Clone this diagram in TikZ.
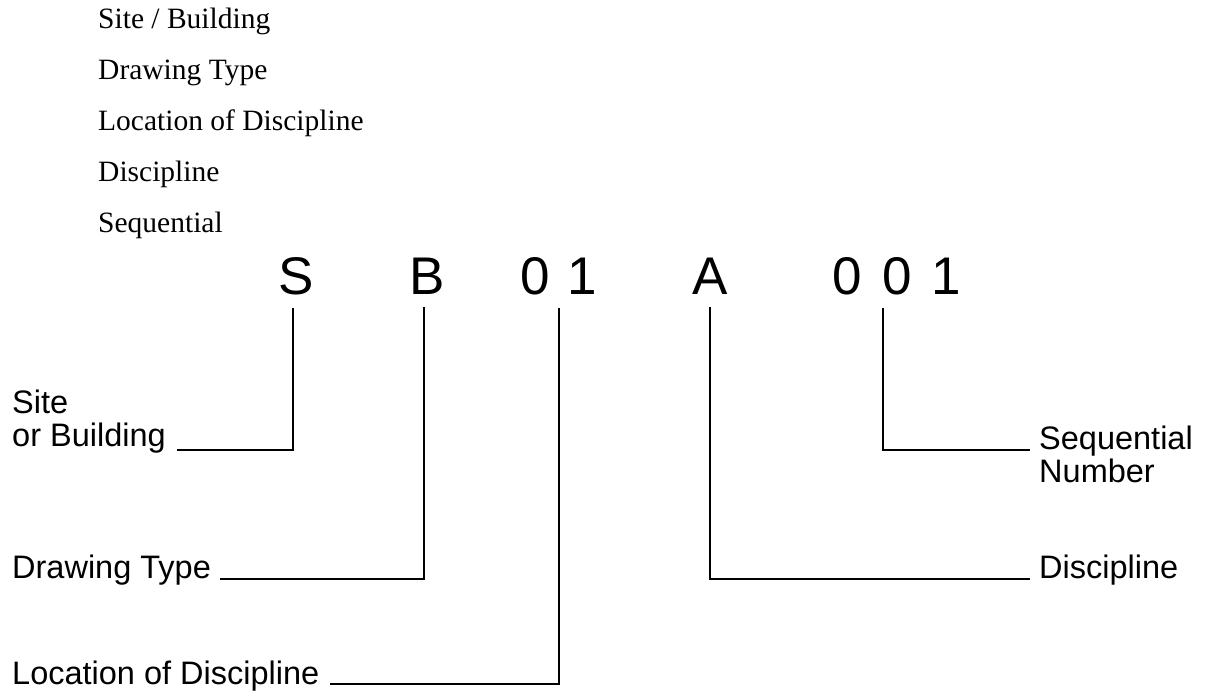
\documentclass[tikz,border=0pt]{standalone}
\usepackage{fontspec}
\setmainfont{Liberation Serif}
\newfontfamily\arialfont{Liberation Sans}
\begin{document}
\begin{tikzpicture}[x=1pt,y=-1pt,
  listitem/.style={anchor=base west, inner sep=0pt, font=\fontsize{29.5}{34}\selectfont},
  codechar/.style={anchor=base, inner sep=0pt, font=\arialfont\fontsize{53}{60}\selectfont},
  fieldlbl/.style={anchor=base west, inner sep=0pt, align=left, font=\arialfont\fontsize{32.5}{33}\selectfont},
  leader/.style={line width=2pt, line join=miter}]
\useasboundingbox (0,0) rectangle (1214,691);

% list of the number's fields
\node[listitem] (t1) at (98,28.5)  {Site / Building};
\node[listitem] (t2) at (98,79.5)  {Drawing Type};
\node[listitem] (t3) at (98,130.5) {Location of Discipline};
\node[listitem] (t4) at (98,181.5) {Discipline};
\node[listitem] (t5) at (98,232.5) {Sequential};

% the drawing number, one node per character
\node[codechar] (cS)  at (296,294)   {S};
\node[codechar] (cB)  at (427.5,294) {B};
\node[codechar] (cL0) at (535.5,294) {0};
\node[codechar] (cL1) at (582,294)   {1};
\node[codechar] (cA)  at (710,294)   {A};
\node[codechar] (cN0) at (847.5,294) {0};
\node[codechar] (cN1) at (897.5,294) {0};
\node[codechar] (cN2) at (946,294)   {1};

% field captions (a two-line caption sits on its last line)
\node[fieldlbl] (lSite) at (12,446)   {Site\\or Building};
\node[fieldlbl] (lType) at (12,578)   {Drawing Type};
\node[fieldlbl] (lLoc)  at (12,684)   {Location of Discipline};
\node[fieldlbl] (lDisc) at (1039,578) {Discipline};
\node[fieldlbl] (lSeq)  at (1039,482) {Sequential\\Number};

% free ends of the leaders, beside the captions
\coordinate (eSite) at (177,450);
\coordinate (eType) at (220,579);
\coordinate (eLoc)  at (330,684);
\coordinate (eDisc) at (1030,579);
\coordinate (eSeq)  at (1030,450);

% leaders
\draw[leader] ([xshift=-3pt,yshift=-13pt]cS.south)   |- (eSite);
\draw[leader] ([xshift=-3.5pt,yshift=-13pt]cB.south) |- (eType);
\draw[leader] ([xshift=23pt,yshift=-13pt]cL0.south)  |- (eLoc);
\draw[leader] ([yshift=-13pt]cA.south)               |- (eDisc);
\draw[leader] ([xshift=35.5pt,yshift=-13pt]cN0.south) |- (eSeq);
\end{tikzpicture}
\end{document}
